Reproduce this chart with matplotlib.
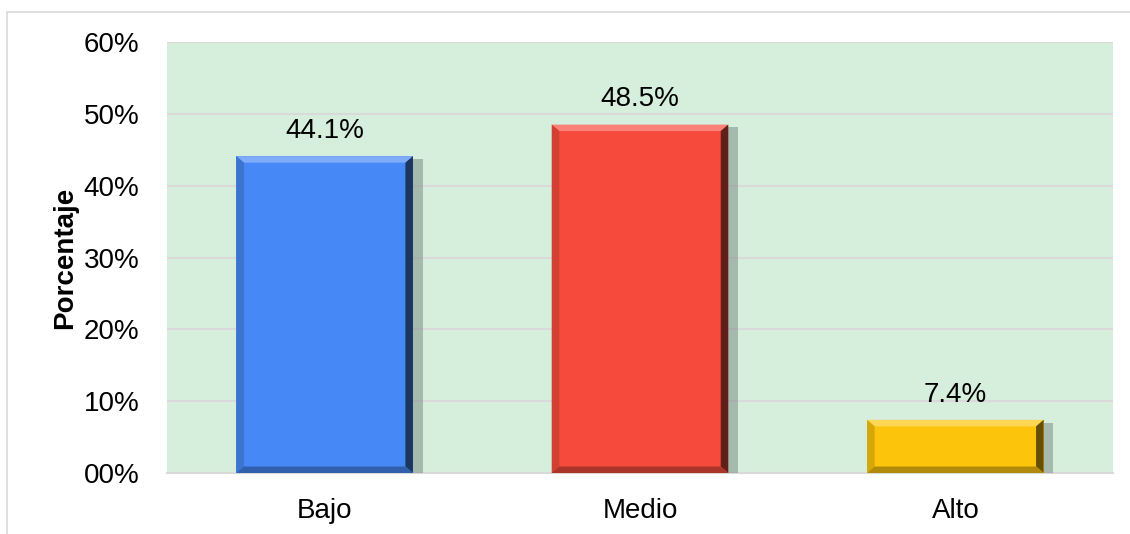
import matplotlib.pyplot as plt
import matplotlib.patches as mpatches
import matplotlib.patheffects as pe
from matplotlib.ticker import FuncFormatter

categories = ["Bajo", "Medio", "Alto"]
values = [44.1, 48.5, 7.4]
labels = ["44.1%", "48.5%", "7.4%"]
colors = ["#4688F5", "#F64B3C", "#FCC50C"]
yticks = [0, 10, 20, 30, 40, 50, 60]

plt.rcParams['font.family'] = ['Liberation Sans', 'DejaVu Sans']

fig = plt.figure(figsize=(11.3, 5.34), dpi=100)
# outer chart frame
fig.patches.append(mpatches.Rectangle((7 / 1130, -0.01), 1.2, (534 - 12) / 534 + 0.01,
                                      transform=fig.transFigure, fill=False,
                                      edgecolor="#D9D9D9", linewidth=1.2))
ax = fig.add_axes([167 / 1130, (534 - 473) / 534, (1113 - 167) / 1130, (473 - 42) / 534])
ax.set_facecolor("#D5EFDC")

x = list(range(len(categories)))
width = 0.56
bars = ax.bar(x, values, width=width, color=colors, zorder=3,
              path_effects=[pe.SimplePatchShadow(offset=(7, -2), shadow_rgbFace="#7F8F86", alpha=0.55),
                            pe.Normal()])


def shade(c, f):
    r, g, b = [int(c[i:i + 2], 16) / 255 for i in (1, 3, 5)]
    if f < 1:
        return (r * f, g * f, b * f)
    f = f - 1
    return (r + (1 - r) * f, g + (1 - g) * f, b + (1 - b) * f)


# bevel edges
bx, by = 0.024, 0.9
for bar, c in zip(bars, colors):
    x0, w, h = bar.get_x(), bar.get_width(), bar.get_height()
    x1 = x0 + w
    polys = [
        ([(x0, h), (x1, h), (x1 - bx, h - by), (x0 + bx, h - by)], shade(c, 1.3)),
        ([(x0, 0), (x0, h), (x0 + bx, h - by), (x0 + bx, by)], shade(c, 0.85)),
        ([(x1, 0), (x1, h), (x1 - bx, h - by), (x1 - bx, by)], shade(c, 0.4)),
        ([(x0, 0), (x1, 0), (x1 - bx, by), (x0 + bx, by)], shade(c, 0.7)),
    ]
    for pts, fc in polys:
        ax.add_patch(mpatches.Polygon(pts, closed=True, facecolor=fc, edgecolor="none", zorder=4))

for xi, v, lab in zip(x, values, labels):
    ax.text(xi, v + 1.7, lab, ha="center", va="bottom", fontsize=20, zorder=5)

ax.set_xlim(-0.5, 2.5)
ax.set_ylim(0, 60)
ax.set_yticks(yticks)
ax.yaxis.set_major_formatter(FuncFormatter(lambda v, p: f"{int(v):02d}%"))
ax.set_xticks(x)
ax.set_xticklabels(categories)
ax.tick_params(axis="y", length=0, labelsize=20, pad=20)
ax.tick_params(axis="x", length=0, labelsize=20, pad=18)
ax.grid(axis="y", color="#D9D9D9", linewidth=1.5, zorder=0)
ax.set_axisbelow(True)
for s in ["left", "right", "top"]:
    ax.spines[s].set_visible(False)
ax.spines["bottom"].set_color("#D9D9D9")
ax.spines["bottom"].set_linewidth(1.5)
ax.set_ylabel("Porcentaje", fontsize=20, fontweight="bold", labelpad=4)

fig.savefig("out.png", dpi=100)
